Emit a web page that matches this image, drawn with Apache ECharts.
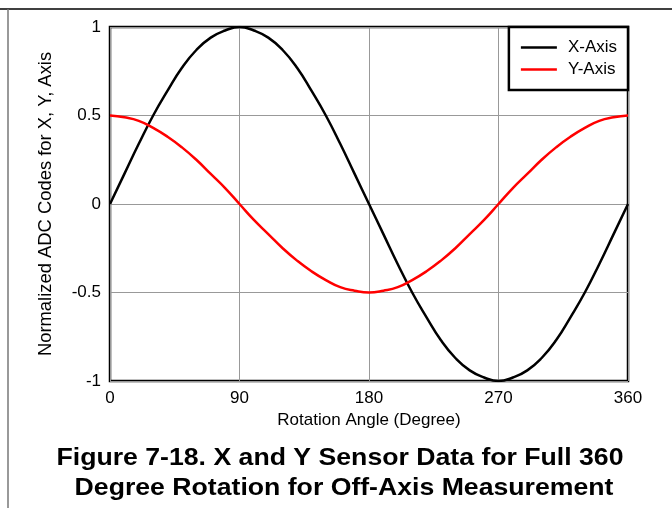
<!DOCTYPE html>
<html>
<head>
<meta charset="utf-8">
<script src="https://cdn.jsdelivr.net/npm/echarts@6/dist/echarts.min.js"></script>
<style>
  html, body { margin: 0; padding: 0; background: #fff; }
  #chart { width: 672px; height: 508px; }
</style>
</head>
<body>
<div id="chart"></div>
<script>
// rotation angle, degrees
const angles = [0, 10, 20, 30, 40, 50, 60, 70, 80, 90, 100, 110, 120, 130, 140, 150, 160, 170, 180,
  190, 200, 210, 220, 230, 240, 250, 260, 270, 280, 290, 300, 310, 320, 330, 340, 350, 360];
// normalized ADC codes
const xAxisCodes = [0, 0.17, 0.34, 0.5, 0.64, 0.77, 0.87, 0.94, 0.98, 1, 0.98, 0.94, 0.87, 0.77, 0.64, 0.5, 0.34, 0.17, 0,
  -0.17, -0.34, -0.5, -0.64, -0.77, -0.87, -0.94, -0.98, -1, -0.98, -0.94, -0.87, -0.77, -0.64, -0.5, -0.34, -0.17, 0];
const yAxisCodes = [0.5, 0.49, 0.47, 0.43, 0.38, 0.32, 0.25, 0.17, 0.09, 0, -0.09, -0.17, -0.25, -0.32, -0.38, -0.43, -0.47, -0.49, -0.5,
  -0.49, -0.47, -0.43, -0.38, -0.32, -0.25, -0.17, -0.09, 0, 0.09, 0.17, 0.25, 0.32, 0.38, 0.43, 0.47, 0.49, 0.5];

const font = 'Liberation Sans';
const chart = echarts.init(document.getElementById('chart'));

chart.setOption({
  animation: false,
  grid: { left: 110, right: 44, top: 27, bottom: 127, show: true, borderColor: '#000', borderWidth: 2.5 },
  legend: {
    right: 44, top: 27,
    orient: 'vertical',
    itemWidth: 36, itemHeight: 2.5, itemGap: 5,
    padding: [12, 11, 12, 12],
    borderColor: '#000', borderWidth: 2.5, backgroundColor: '#fff',
    icon: 'rect',
    textStyle: { fontFamily: font, fontSize: 17, color: '#000', padding: [0, 0, 0, 6] },
    data: ['X-Axis', 'Y-Axis']
  },
  xAxis: {
    type: 'value', min: 0, max: 360, interval: 90,
    name: 'Rotation Angle (Degree)', nameLocation: 'middle', nameGap: 27,
    nameTextStyle: { fontFamily: font, fontSize: 17, color: '#000' },
    axisLine: { show: false }, axisTick: { show: false },
    axisLabel: { fontFamily: font, fontSize: 17, color: '#000', margin: 9 },
    splitLine: { lineStyle: { color: '#999', width: 1 } }
  },
  yAxis: {
    type: 'value', min: -1, max: 1, interval: 0.5,
    name: 'Normalized ADC Codes for X, Y, Axis', nameLocation: 'middle', nameGap: 55,
    nameTextStyle: { fontFamily: font, fontSize: 18.4, color: '#000' },
    axisLine: { show: false }, axisTick: { show: false },
    axisLabel: { fontFamily: font, fontSize: 17, color: '#000', margin: 9 },
    splitLine: { lineStyle: { color: '#999', width: 1 } }
  },
  series: [
    {
      name: 'X-Axis', type: 'line', smooth: true, symbol: 'none',
      color: '#000', lineStyle: { width: 2.5 },
      data: angles.map((a, i) => [a, xAxisCodes[i]])
    },
    {
      name: 'Y-Axis', type: 'line', smooth: true, symbol: 'none',
      color: '#f00', lineStyle: { width: 2.5 },
      data: angles.map((a, i) => [a, yAxisCodes[i]])
    }
  ],
  graphic: [
    // page frame lines
    { type: 'line', shape: { x1: 0, y1: 9, x2: 672, y2: 9 }, style: { stroke: '#000', lineWidth: 1.5 } },
    { type: 'line', shape: { x1: 8, y1: 9, x2: 8, y2: 508 }, style: { stroke: '#777', lineWidth: 1.5 } },
    {
      type: 'text', x: 340, y: 458, scaleX: 1.11,
      style: { text: 'Figure 7-18. X and Y Sensor Data for Full 360', font: 'bold 24px Liberation Sans', fill: '#000', align: 'center', verticalAlign: 'middle' }
    },
    {
      type: 'text', x: 344, y: 488, scaleX: 1.11,
      style: { text: 'Degree Rotation for Off-Axis Measurement', font: 'bold 24px Liberation Sans', fill: '#000', align: 'center', verticalAlign: 'middle' }
    }
  ]
});
</script>
</body>
</html>
